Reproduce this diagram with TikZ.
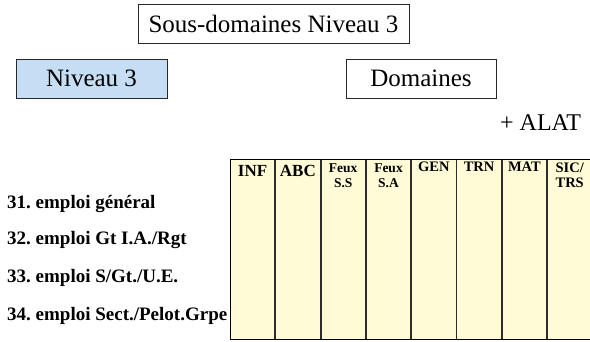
\documentclass[tikz,border=0pt]{standalone}
\usepackage{fontspec}
\setmainfont{Liberation Serif}
\frenchspacing
\definecolor{boxline}{RGB}{40,40,40}
\definecolor{lvlblue}{RGB}{198,222,244}
\definecolor{gridyellow}{RGB}{255,251,214}
\definecolor{colrule}{RGB}{45,45,45}
\tikzset{
  titlebox/.style={draw=boxline, line width=0.9pt, minimum height=39pt, inner sep=0pt,
    font=\fontsize{25}{28}\selectfont},
  rowlabel/.style={anchor=base west, inner sep=0pt, font=\bfseries\fontsize{19}{21}\selectfont},
  headbig/.style={anchor=base, inner sep=0pt, font=\bfseries\fontsize{17}{19}\selectfont},
  headmid/.style={anchor=base, inner sep=0pt, align=center, font=\bfseries\fontsize{14.5}{15}\selectfont},
  headsmall/.style={anchor=base, inner sep=0pt, align=center, font=\bfseries\fontsize{13.5}{15}\selectfont},
}
\begin{document}
\begin{tikzpicture}[x=1pt,y=-1pt]
\useasboundingbox (0,0) rectangle (590,341);

% title boxes
\node[titlebox, minimum width=271pt] (sous) at (273.5,23.5) {Sous-domaines Niveau 3};
\node[titlebox, minimum width=151pt, fill=lvlblue] (niv) at (91.5,78.5) {Niveau 3};
\node[titlebox, minimum width=150pt] (dom) at (421,78.5) {Domaines};
\node[anchor=base west, inner sep=0pt, font=\fontsize{24}{26}\selectfont] (alat) at (500,130) {+ ALAT};

% domain grid
\fill[gridyellow] (230,159) rectangle (593,339);
\foreach \x in {275.3,320.6,365.9,411.2,456.5,501.8,547.1}
  \draw[colrule, line width=1.8pt] (\x,159) -- (\x,339);
\draw[black, line width=0.9pt] (593,159) -- (230,159) -- (230,339) -- (593,339);

% column headings (two-line ones are placed by their second baseline)
\node[headbig] (inf) at (252.6,176) {INF};
\node[headbig] (abc) at (297.9,176) {ABC};
\node[headsmall] (fss) at (343.2,187) {Feux\\S.S};
\node[headsmall] (fsa) at (388.5,187) {Feux\\S.A};
\node[headmid] (gen) at (433.8,171) {GEN};
\node[headmid] (trn) at (479.1,171) {TRN};
\node[headmid] (mat) at (524.4,171) {MAT};
\node[headmid] (sic) at (569.7,187) {SIC/\\TRS};

% row labels
\node[rowlabel] (r31) at (7,208) {31. emploi général};
\node[rowlabel] (r32) at (7,244.5) {32. emploi Gt I.A./Rgt};
\node[rowlabel] (r33) at (7,282) {33. emploi S/Gt./U.E.};
\node[rowlabel] (r34) at (7,320) {34. emploi Sect./Pelot.Grpe};
\end{tikzpicture}
\end{document}
